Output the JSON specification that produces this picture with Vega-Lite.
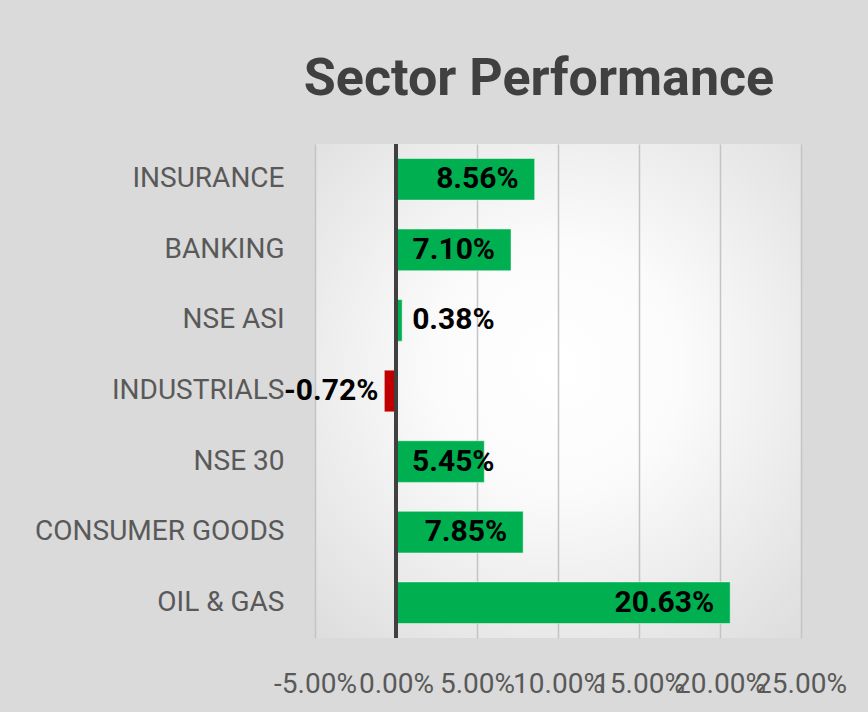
{
  "$schema": "https://vega.github.io/schema/vega-lite/v6.json",
  "autosize": "none",
  "width": 486,
  "height": 494,
  "padding": {"left": 315, "top": 144, "right": 67, "bottom": 74},
  "background": "#dadada",
  "title": {
    "text": "Sector Performance",
    "font": "Roboto",
    "fontSize": 52,
    "fontWeight": "bold",
    "color": "#404040",
    "anchor": "middle",
    "dx": -19,
    "offset": -5,
    "baseline": "alphabetic"
  },
  "config": {
    "locale": {"number": {"decimal": ".", "thousands": ",", "grouping": [3], "currency": ["$", ""], "minus": "-"}},
    "view": {
      "stroke": null,
      "fill": {
        "gradient": "radial",
        "x1": 0.5, "y1": 0.45, "r1": 0,
        "x2": 0.5, "y2": 0.45, "r2": 0.72,
        "stops": [
          {"offset": 0, "color": "#ffffff"},
          {"offset": 0.35, "color": "#fbfbfb"},
          {"offset": 1, "color": "#dedede"}
        ]
      }
    }
  },
  "data": {
    "values": [
      {"sector": "INSURANCE", "value": 0.0856},
      {"sector": "BANKING", "value": 0.0710},
      {"sector": "NSE ASI", "value": 0.0038},
      {"sector": "INDUSTRIALS", "value": -0.0072},
      {"sector": "NSE 30", "value": 0.0545},
      {"sector": "CONSUMER GOODS", "value": 0.0785},
      {"sector": "OIL & GAS", "value": 0.2063}
    ]
  },
  "encoding": {
    "y": {
      "field": "sector",
      "type": "nominal",
      "sort": null,
      "scale": {"paddingInner": 0.41, "paddingOuter": 0.205},
      "axis": {
        "title": null,
        "domain": false,
        "ticks": false,
        "grid": false,
        "labelFont": "Roboto",
        "labelFontSize": 28,
        "labelColor": "#595959",
        "labelPadding": 31,
        "labelLimit": 400
      }
    },
    "x": {
      "field": "value",
      "type": "quantitative",
      "scale": {"domain": [-0.05, 0.25], "nice": false, "zero": false},
      "axis": {
        "title": null,
        "values": [-0.05, 0, 0.05, 0.1, 0.15, 0.2, 0.25],
        "format": ".2%",
        "domain": false,
        "ticks": false,
        "grid": true,
        "gridColor": "#c4c4c4",
        "gridWidth": 1.5,
        "labelFont": "Roboto",
        "labelFontSize": 28,
        "labelColor": "#595959",
        "labelPadding": 32,
        "labelOverlap": false,
        "labelFlush": false
      }
    }
  },
  "layer": [
    {
      "mark": {"type": "bar", "stroke": "#ffffff", "strokeOpacity": 0.45, "strokeWidth": 1},
      "encoding": {
        "x2": {"datum": 0},
        "color": {
          "condition": {"test": "datum.value < 0", "value": "#C00000"},
          "value": "#00B050"
        }
      }
    },
    {
      "transform": [{"filter": "datum.value >= 0.06"}],
      "mark": {"type": "text", "align": "right", "baseline": "middle", "dx": -16, "font": "Roboto", "fontSize": 30, "fontWeight": "bold", "color": "#000000"},
      "encoding": {"text": {"field": "value", "type": "quantitative", "format": ".2%"}}
    },
    {
      "transform": [{"filter": "datum.value > 0.02 && datum.value < 0.06"}],
      "mark": {"type": "text", "align": "left", "baseline": "middle", "dx": 16, "font": "Roboto", "fontSize": 30, "fontWeight": "bold", "color": "#000000"},
      "encoding": {
        "x": {"datum": 0},
        "text": {"field": "value", "type": "quantitative", "format": ".2%"}
      }
    },
    {
      "transform": [{"filter": "datum.value >= 0 && datum.value <= 0.02"}],
      "mark": {"type": "text", "align": "left", "baseline": "middle", "dx": 10, "font": "Roboto", "fontSize": 30, "fontWeight": "bold", "color": "#000000"},
      "encoding": {"text": {"field": "value", "type": "quantitative", "format": ".2%"}}
    },
    {
      "transform": [{"filter": "datum.value < 0"}],
      "mark": {"type": "text", "align": "right", "baseline": "middle", "dx": -6, "font": "Roboto", "fontSize": 30, "fontWeight": "bold", "color": "#000000"},
      "encoding": {"text": {"field": "value", "type": "quantitative", "format": ".2%"}}
    },
    {
      "mark": {"type": "rule", "color": "#404040", "strokeWidth": 3.5},
      "encoding": {"x": {"datum": 0}, "y": null}
    }
  ]
}
